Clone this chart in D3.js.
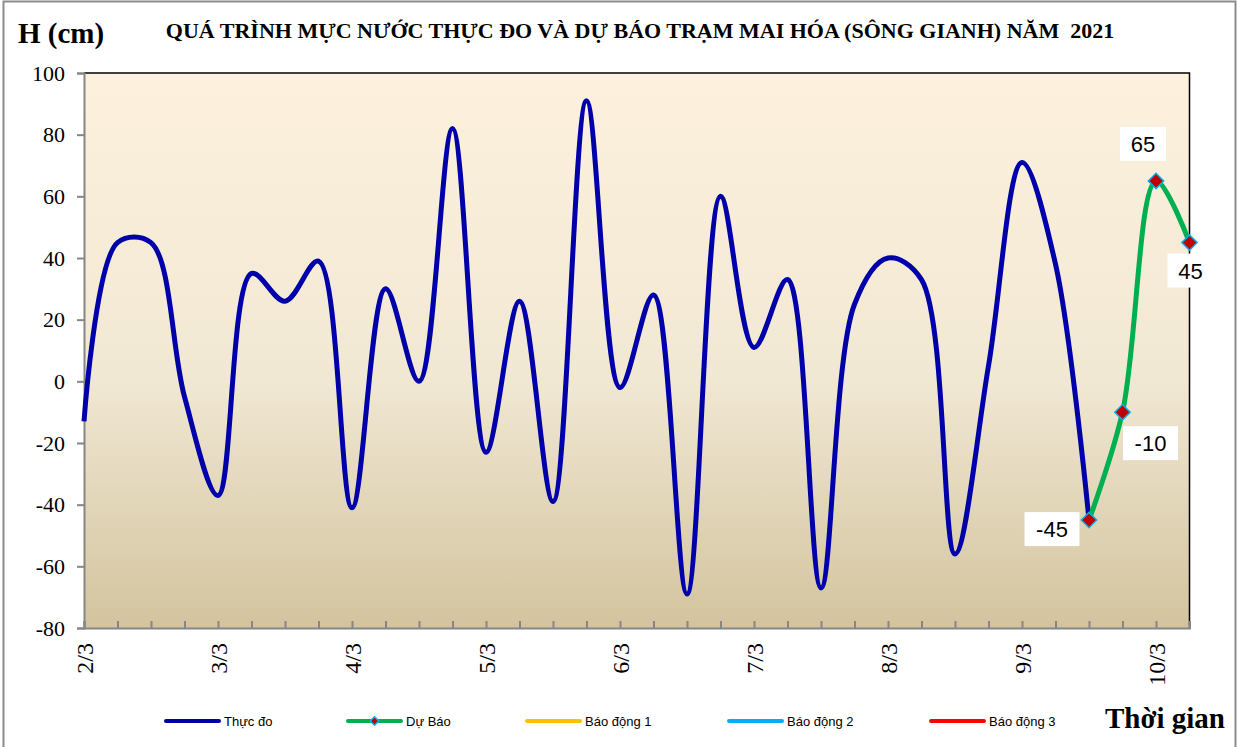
<!DOCTYPE html>
<meta charset="utf-8">
<script src="https://d3js.org/d3.v7.min.js"></script>
<style>
  body { margin: 0; background: #fff; }
</style>
<div id="chart"></div>
<script>
  // 6-hourly steps from 2/3 to 10/3 (+6h)
  var dayLabels = ["2/3", "3/3", "4/3", "5/3", "6/3", "7/3", "8/3", "9/3", "10/3"];
  var observed = [-13, 45, 45, -5, -37, 35, 26, 39, -41, 30, 0, 82, -23, 26, -39, 91,
    -2, 28, -69, 60, 11, 33, -67, 25, 40, 33, -56, 5, 71, 38, -45];
  var forecast = [-45, -10, 65, 45]; // starts at the last observed step
  var forecastStart = 30;
  var yTicks = [-80, -60, -40, -20, 0, 20, 40, 60, 80, 100];
  var legendItems = [
    { name: "Thực đo", color: "#0000AA", x: 166 },
    { name: "Dự Báo", color: "#00B050", x: 348, marker: true },
    { name: "Báo động 1", color: "#FFC000", x: 527 },
    { name: "Báo động 2", color: "#00B0F0", x: 729 },
    { name: "Báo động 3", color: "#FF0000", x: 931 }
  ];

  var W = 1237, H = 747;
  var serif = "'Liberation Serif', 'Times New Roman', serif";
  var sans = "'Liberation Sans', Arial, sans-serif";
  var svg = d3.select("#chart").append("svg").attr("width", W).attr("height", H);

  var x = d3.scaleLinear().domain([0, 33]).range([84, 1189.5]);
  var y = d3.scaleLinear().domain([-80, 100]).range([628, 73]);

  // outer frame
  svg.append("rect").attr("x", 3.5).attr("y", 1.5).attr("width", W - 5).attr("height", H + 5)
    .attr("fill", "#fff").attr("stroke", "#8c8c8c").attr("stroke-width", 2);

  var defs = svg.append("defs");
  var grad = defs.append("linearGradient").attr("id", "bg").attr("x1", 0).attr("y1", 0).attr("x2", 0).attr("y2", 1);
  grad.append("stop").attr("offset", "0%").attr("stop-color", "#fdf1dd");
  grad.append("stop").attr("offset", "55%").attr("stop-color", "#f1e8d4");
  grad.append("stop").attr("offset", "100%").attr("stop-color", "#d3c49e");

  svg.append("rect").attr("x", x(0)).attr("y", y(100))
    .attr("width", x(33) - x(0)).attr("height", y(-80) - y(100))
    .attr("fill", "url(#bg)");
  // top and right borders
  svg.append("path").attr("d", "M" + x(0) + "," + y(100) + "H" + x(33) + "V" + y(-80))
    .attr("fill", "none").attr("stroke", "#000").attr("stroke-width", 1.5);

  // y axis
  var yAxis = svg.append("g").attr("transform", "translate(" + x(0) + ",0)")
    .call(d3.axisLeft(y).tickValues(yTicks).tickSize(7).tickPadding(12)
      .tickFormat(function (d) { return String(d); }));
  yAxis.select(".domain").attr("stroke", "#868686").attr("stroke-width", 2);
  yAxis.selectAll(".tick line").attr("stroke", "#868686").attr("stroke-width", 2);
  yAxis.selectAll("text").style("font-size", "22px").style("font-family", serif).attr("fill", "#000");

  // x axis
  var xAxis = svg.append("g").attr("transform", "translate(0," + y(-80) + ")")
    .call(d3.axisBottom(x).tickValues(d3.range(0, 34)).tickSize(-7).tickFormat(""));
  xAxis.select(".domain").attr("stroke", "#868686").attr("stroke-width", 2);
  xAxis.selectAll(".tick line").attr("stroke", "#868686").attr("stroke-width", 2);

  svg.selectAll(".xlab").data(dayLabels).enter().append("text")
    .attr("class", "xlab")
    .attr("transform", function (d, i) { return "translate(" + (x(i * 4) + 9) + ",643) rotate(-90)"; })
    .attr("text-anchor", "end")
    .style("font-family", serif).style("font-size", "24px")
    .text(function (d) { return d; });

  var line = d3.line()
    .x(function (d) { return x(d.i); })
    .y(function (d) { return y(d.v); })
    .curve(d3.curveCatmullRom.alpha(0.5));

  var obsPts = observed.map(function (v, i) { return { i: i, v: v }; });
  var fcPts = forecast.map(function (v, i) { return { i: i + forecastStart, v: v }; });

  svg.append("path").datum(obsPts).attr("d", line)
    .attr("fill", "none").attr("stroke", "#0000AA").attr("stroke-width", 5);
  svg.append("path").datum(fcPts).attr("d", line)
    .attr("fill", "none").attr("stroke", "#00B050").attr("stroke-width", 5);

  var diamond = d3.symbol().type(d3.symbolDiamond2).size(150);
  svg.selectAll(".mk").data(fcPts).enter().append("path")
    .attr("class", "mk")
    .attr("transform", function (d) { return "translate(" + x(d.i) + "," + y(d.v) + ")"; })
    .attr("d", diamond)
    .attr("fill", "#C00000").attr("stroke", "#00B0F0").attr("stroke-width", 1.5);

  // data labels: offset of the label box centre from its point
  var labelOffsets = [[-37, 9], [28, 31], [-13, -37], [1, 28]];
  fcPts.forEach(function (d, k) {
    var cx = x(d.i) + labelOffsets[k][0], cy = y(d.v) + labelOffsets[k][1];
    var t = String(d.v);
    var w = t.length === 2 ? 46 : 55;
    svg.append("rect").attr("x", cx - w / 2).attr("y", cy - 17).attr("width", w).attr("height", 34).attr("fill", "#fff");
    svg.append("text").attr("x", cx).attr("y", cy + 8).attr("text-anchor", "middle")
      .style("font-family", sans).style("font-size", "22px").text(t);
  });

  // titles
  svg.append("text").attr("x", 18).attr("y", 43).style("font-family", serif)
    .style("font-size", "29px").style("font-weight", "bold").text("H (cm)");
  svg.append("text").attr("x", 640).attr("y", 38).attr("text-anchor", "middle")
    .style("font-family", serif).style("font-size", "22px").style("font-weight", "bold")
    .style("white-space", "pre")
    .text("QUÁ TRÌNH MỰC NƯỚC THỰC ĐO VÀ DỰ BÁO TRẠM MAI HÓA (SÔNG GIANH) NĂM  2021");
  svg.append("text").attr("x", 1225).attr("y", 728).attr("text-anchor", "end")
    .style("font-family", serif).style("font-size", "29px").style("font-weight", "bold").text("Thời gian");

  // legend
  var lg = svg.selectAll(".lgi").data(legendItems).enter().append("g").attr("class", "lgi");
  lg.append("line").attr("x1", function (d) { return d.x; }).attr("x2", function (d) { return d.x + 53; })
    .attr("y1", 721).attr("y2", 721).attr("stroke", function (d) { return d.color; })
    .attr("stroke-width", 4).attr("stroke-linecap", "round");
  lg.filter(function (d) { return d.marker; }).append("path")
    .attr("transform", function (d) { return "translate(" + (d.x + 26.5) + ",721)"; })
    .attr("d", d3.symbol().type(d3.symbolDiamond2).size(45))
    .attr("fill", "#C00000").attr("stroke", "#00B0F0").attr("stroke-width", 1.5);
  lg.append("text").attr("x", function (d) { return d.x + 58; })
    .attr("y", 726).style("font-family", sans).style("font-size", "13px")
    .text(function (d) { return d.name; });
</script>
